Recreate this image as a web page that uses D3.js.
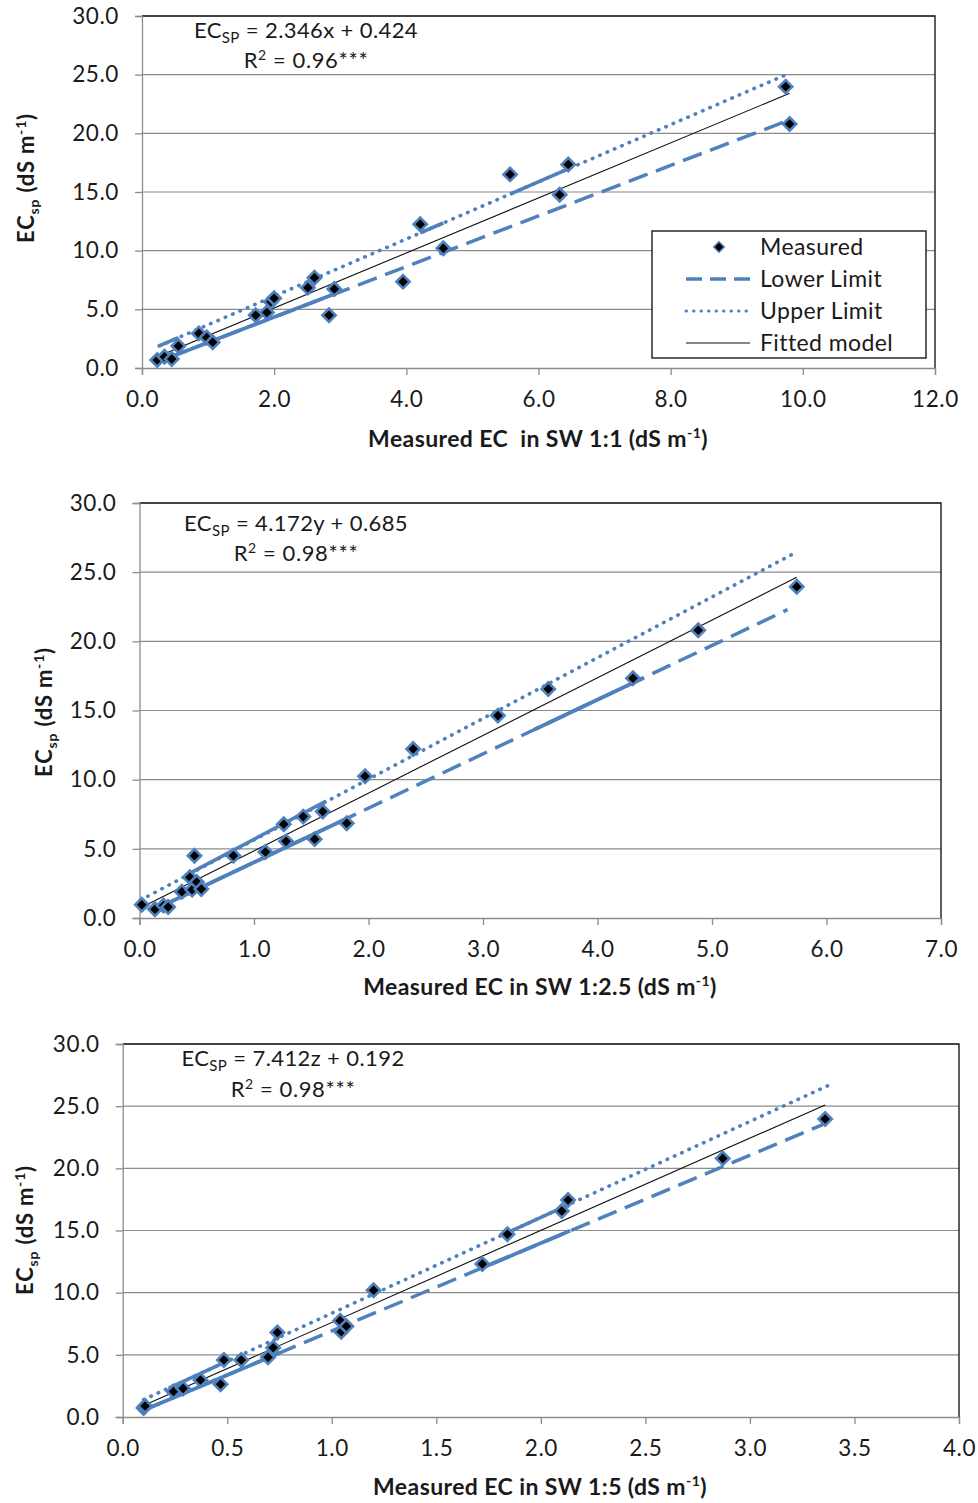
<!DOCTYPE html>
<html>
<head>
<meta charset="utf-8">
<script src="https://cdn.jsdelivr.net/npm/d3@7"></script>
<style>
  body { margin: 0; background: #fff; }
  text { font-family: Lato, 'Open Sans', sans-serif; fill: #1a1a1a; }
</style>
</head>
<body>
<svg id="chart"></svg>
<script>
const W = 978
const H = 1503
const blue = '#4f81bd'
const yTicks = [0, 5, 10, 15, 20, 25, 30]

/// panel 1: SW 1:1 ////////////////////////////////
const xTicks1 = [0, 2, 4, 6, 8, 10, 12]
const ecX1 = [0.23, 0.34, 0.45, 0.55, 0.86, 0.98, 1.07, 1.72, 1.89, 1.95, 2.0, 2.51, 2.61, 2.83, 2.91, 3.95, 4.21, 4.56, 5.57, 6.32, 6.45, 9.74, 9.8]
const ecY1 = [0.68, 0.96, 0.77, 1.88, 2.95, 2.6, 2.2, 4.5, 4.73, 5.64, 5.95, 6.85, 7.7, 4.5, 6.73, 7.36, 12.25, 10.2, 16.5, 14.76, 17.35, 23.98, 20.8]
const fit1 = [[0.23, 0.96], [9.8, 23.41]]
const upper1 = [[0.26, 1.88], [9.79, 25.1]]
const upperDense1 = [[[0.26, 1.88], [0.55, 2.59]], [[4.21, 11.51], [4.56, 12.36]], [[5.57, 14.82], [6.45, 16.97]]]
const lower1 = [[0.4, 0.88], [9.73, 21.0]]
const lowerDense1 = [[[0.4, 0.88], [2.94, 6.37]]]

/// panel 2: SW 1:2.5 ////////////////////////////////
const xTicks2 = [0, 1, 2, 3, 4, 5, 6, 7]
const ecX2 = [0.02, 0.135, 0.21, 0.25, 0.37, 0.44, 0.46, 0.48, 0.5, 0.54, 0.82, 1.1, 1.26, 1.28, 1.43, 1.53, 1.6, 1.81, 1.97, 2.39, 3.13, 3.57, 4.31, 4.88, 5.74]
const ecY2 = [0.96, 0.63, 0.9, 0.8, 1.9, 2.95, 2.05, 4.5, 2.6, 2.1, 4.5, 4.77, 6.78, 5.54, 7.33, 5.7, 7.7, 6.85, 10.25, 12.22, 14.63, 16.56, 17.33, 20.8, 23.95]
const fit2 = [[0.02, 0.77], [5.74, 24.63]]
const upper2 = [[0.01, 1.3], [5.75, 26.5]]
const upperDense2 = [[[0.4, 3.06], [1.63, 8.46]]]
const lower2 = [[0.13, 0.61], [5.66, 22.29]]
const lowerDense2 = [[[0.13, 0.61], [1.82, 7.23]], [[3.45, 13.62], [4.4, 17.35]]]

/// panel 3: SW 1:5 ////////////////////////////////
const xTicks3 = [0, 0.5, 1, 1.5, 2, 2.5, 3, 3.5, 4]
const ecX3 = [0.1, 0.107, 0.243, 0.289, 0.372, 0.468, 0.484, 0.567, 0.695, 0.72, 0.74, 1.04, 1.045, 1.07, 1.2, 1.72, 1.84, 2.1, 2.13, 2.87, 3.36]
const ecY3 = [0.72, 0.88, 2.05, 2.3, 2.98, 2.63, 4.58, 4.58, 4.8, 5.57, 6.8, 7.75, 6.86, 7.3, 10.2, 12.3, 14.7, 16.57, 17.45, 20.8, 23.97]
const fit3 = [[0.1, 0.93], [3.36, 25.1]]
const upper3 = [[0.1, 1.4], [3.38, 26.7]]
const upperDense3 = [[[0.22, 2.33], [0.49, 4.41]], [[1.84, 14.82], [2.1, 16.82]]]
const lower3 = [[0.1, 0.55], [3.35, 23.53]]
const lowerDense3 = [[[0.1, 0.55], [0.75, 5.14]], [[1.72, 12.0], [2.14, 14.97]]]

const legendItems = ['Measured', 'Lower Limit', 'Upper Limit', 'Fitted model']

const svg = d3
  .select('#chart')
  .attr('width', W)
  .attr('height', H)

const fmt = d3.format('.1f')

function drawPanel(p) {
  const x = d3.scaleLinear().domain(p.xDomain).range([p.left, p.right])
  const y = d3.scaleLinear().domain([0, 30]).range([p.bottom, p.top])
  const g = svg.append('g')

  // gridlines
  g.selectAll('.grid')
    .data(yTicks.slice(1))
    .join('line')
    .attr('x1', p.left)
    .attr('x2', p.right)
    .attr('y1', d => y(d))
    .attr('y2', d => y(d))
    .attr('stroke', '#8c8c8c')
    .attr('stroke-width', 1.2)

  // frame top & right
  g.append('path')
    .attr('d', `M${p.left},${p.top}H${p.right}V${p.bottom}`)
    .attr('fill', 'none')
    .attr('stroke', '#1a1a1a')
    .attr('stroke-width', 1.4)

  // axes
  const yAxis = g.append('g')
    .attr('transform', `translate(${p.left},0)`)
    .call(d3.axisLeft(y).tickValues(yTicks).tickSize(7).tickPadding(16).tickFormat(fmt))
  const xAxis = g.append('g')
    .attr('transform', `translate(0,${p.bottom})`)
    .call(d3.axisBottom(x).tickValues(p.xTicks).tickSize(7).tickPadding(16).tickFormat(fmt))
  ;[yAxis, xAxis].forEach(a => {
    a.selectAll('path, line').attr('stroke', '#8c8c8c').attr('stroke-width', 1.3)
    a.selectAll('text').attr('font-size', 22.5).attr('fill', '#1a1a1a')
      .attr('font-family', 'Lato').attr('letter-spacing', 0.6)
  })

  const line = d3.line().x(d => x(d[0])).y(d => y(d[1]))

  // lower limit (dashed) + dense parts
  g.append('path').attr('d', line(p.lower))
    .attr('fill', 'none').attr('stroke', blue).attr('stroke-width', 3.5)
    .attr('stroke-dasharray', '20,9')
  p.lowerDense.forEach(seg => {
    g.append('path').attr('d', line(seg))
      .attr('fill', 'none').attr('stroke', blue).attr('stroke-width', 3.8)
  })

  // upper limit (dotted) + dense parts
  g.append('path').attr('d', line(p.upper))
    .attr('fill', 'none').attr('stroke', blue).attr('stroke-width', 3.6)
    .attr('stroke-linecap', 'round')
    .attr('stroke-dasharray', '0.5,7.5')
  p.upperDense.forEach(seg => {
    g.append('path').attr('d', line(seg))
      .attr('fill', 'none').attr('stroke', blue).attr('stroke-width', 3.6)
  })

  // fitted model
  g.append('path').attr('d', line(p.fit))
    .attr('fill', 'none').attr('stroke', '#111').attr('stroke-width', 1.1)

  // measured points
  const sym = d3.symbol(d3.symbolSquare, 88)
  g.selectAll('.pt')
    .data(p.xs.map((v, i) => [v, p.ys[i]]))
    .join('path')
    .attr('d', sym)
    .attr('transform', d => `translate(${x(d[0])},${y(d[1])}) rotate(45)`)
    .attr('fill', '#000')
    .attr('stroke', blue)
    .attr('stroke-width', 2.6)

  // equation
  const eq = g.append('text')
    .attr('x', p.eq[0]).attr('y', p.eq[1])
    .attr('text-anchor', 'middle').attr('font-size', 22).attr('letter-spacing', 0.4)
  eq.append('tspan').text('EC')
  eq.append('tspan').text('SP').attr('font-size', 15).attr('dy', 5)
  eq.append('tspan').text(' = ' + p.eqText).attr('dy', -5)
  const r2 = g.append('text')
    .attr('x', p.r2[0]).attr('y', p.r2[1])
    .attr('text-anchor', 'middle').attr('font-size', 22).attr('letter-spacing', 0.6)
  r2.append('tspan').text('R')
  r2.append('tspan').text('2').attr('font-size', 14).attr('dy', -8)
  r2.append('tspan').text(' = ' + p.r2Text).attr('dy', 8)

  // y label
  const yl = g.append('text')
    .attr('transform', `translate(${p.yLabel[0]},${p.yLabel[1]}) rotate(-90)`)
    .attr('text-anchor', 'middle').attr('font-size', 22).attr('font-weight', 'bold')
    .attr('letter-spacing', 0.8)
  yl.append('tspan').text('EC')
  yl.append('tspan').text('sp').attr('font-size', 14).attr('dy', 5)
  yl.append('tspan').text(' (dS m').attr('dy', -5)
  yl.append('tspan').text('-1').attr('font-size', 14).attr('dy', -8)
  yl.append('tspan').text(')').attr('dy', 8)

  // x label
  const xl = g.append('text')
    .attr('x', p.xLabel[0]).attr('y', p.xLabel[1])
    .attr('text-anchor', 'middle').attr('font-size', 23).attr('font-weight', 'bold')
    .attr('letter-spacing', 0.4)
  xl.append('tspan').text(p.xLabelText + ' (dS m')
  xl.append('tspan').text('-1').attr('font-size', 14).attr('dy', -9)
  xl.append('tspan').text(')').attr('dy', 9)

  return { x, y, g }
}

const p1 = drawPanel({
  left: 142, right: 935, top: 16, bottom: 368, xDomain: [0, 12], xTicks: xTicks1,
  xs: ecX1, ys: ecY1, fit: fit1, upper: upper1, upperDense: upperDense1, lower: lower1, lowerDense: lowerDense1,
  eq: [306, 38], eqText: '2.346x + 0.424', r2: [306, 68], r2Text: '0.96***',
  yLabel: [34, 178], xLabel: [538, 447], xLabelText: 'Measured EC\u00a0\u00a0in SW 1:1'
})

drawPanel({
  left: 139.5, right: 941, top: 503, bottom: 918, xDomain: [0, 7], xTicks: xTicks2,
  xs: ecX2, ys: ecY2, fit: fit2, upper: upper2, upperDense: upperDense2, lower: lower2, lowerDense: lowerDense2,
  eq: [296, 531], eqText: '4.172y + 0.685', r2: [296, 561], r2Text: '0.98***',
  yLabel: [52, 712], xLabel: [540, 995], xLabelText: 'Measured EC in SW 1:2.5'
})

drawPanel({
  left: 122.7, right: 959, top: 1044, bottom: 1417, xDomain: [0, 4], xTicks: xTicks3,
  xs: ecX3, ys: ecY3, fit: fit3, upper: upper3, upperDense: upperDense3, lower: lower3, lowerDense: lowerDense3,
  eq: [293, 1066], eqText: '7.412z + 0.192', r2: [293, 1097], r2Text: '0.98***',
  yLabel: [33, 1230], xLabel: [540, 1495], xLabelText: 'Measured EC in SW 1:5'
})

/// legend (panel 1) ////////////////////////////////
const lg = p1.g.append('g')
lg.append('rect')
  .attr('x', 652).attr('y', 231).attr('width', 274).attr('height', 127)
  .attr('fill', '#fff').attr('stroke', '#1a1a1a').attr('stroke-width', 1.4)
const rowY = d3.scalePoint().domain(legendItems).range([247, 343])
legendItems.forEach((name, i) => {
  const yy = rowY(name)
  if (i === 0) {
    lg.append('path').attr('d', d3.symbol(d3.symbolSquare, 55)())
      .attr('transform', `translate(719,${yy}) rotate(45)`)
      .attr('fill', '#000').attr('stroke', blue).attr('stroke-width', 1.5)
  } else {
    const l = lg.append('line').attr('x1', 686).attr('x2', 750).attr('y1', yy).attr('y2', yy)
    if (i === 1) l.attr('stroke', blue).attr('stroke-width', 3.5).attr('stroke-dasharray', '16,8')
    if (i === 2) l.attr('stroke', blue).attr('stroke-width', 3).attr('stroke-linecap', 'round').attr('stroke-dasharray', '0.5,7')
    if (i === 3) l.attr('stroke', '#111').attr('stroke-width', 1.1)
  }
  lg.append('text').attr('x', 760).attr('y', yy).attr('dy', '0.35em')
    .attr('font-size', 23).attr('letter-spacing', 0.4).text(name)
})
</script>
</body>
</html>
